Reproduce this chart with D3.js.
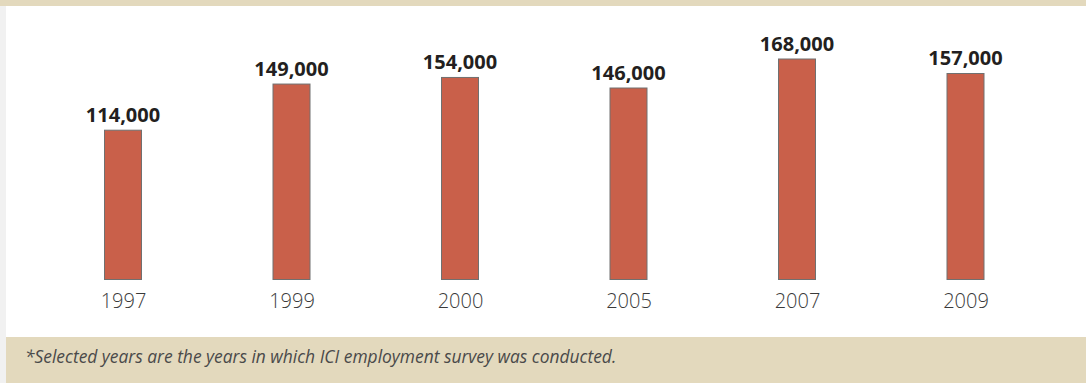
<!DOCTYPE html>
<html><head><meta charset="utf-8">
<script src="https://cdn.jsdelivr.net/npm/d3@7"></script>
<style>body{margin:0;background:#fff}svg{display:block}</style>
</head><body>
<svg id="c" width="1086" height="383"></svg>
<script>
const years = ["1997","1999","2000","2005","2007","2009"];
const employees = [114000,149000,154000,146000,168000,157000];
const valueLabels = ["114,000","149,000","154,000","146,000","168,000","157,000"];
const note = "*Selected years are the years in which ICI employment survey was conducted.";

const svg = d3.select("#c");
const W = 1086, H = 383;
svg.append("rect").attr("x",0).attr("y",0).attr("width",W).attr("height",H).attr("fill","#fff");
svg.append("rect").attr("x",0).attr("y",0).attr("width",6).attr("height",H).attr("fill","#f1f1f1");
svg.append("rect").attr("x",0).attr("y",0).attr("width",W).attr("height",6).attr("fill","#e3d9bd");
svg.append("rect").attr("x",6).attr("y",337).attr("width",W-6).attr("height",H-337).attr("fill","#e3d9bd");

const x = d3.scalePoint().domain(years).range([38.75,1049.75]).padding(0.5);
const y = d3.scaleLinear().domain([0,168000]).range([280,58.5]);
const bw = 38;

const data = years.map((yr,i)=>({yr, v:employees[i], lab:valueLabels[i]}));

svg.selectAll("rect.bar").data(data).enter().append("rect")
  .attr("class","bar")
  .attr("x",d=>x(d.yr)-bw/2+0.5)
  .attr("y",d=>y(d.v)+0.5)
  .attr("width",bw-1)
  .attr("height",d=>y(0)-y(d.v)-1)
  .attr("fill","#c9604a").attr("stroke","#707070").attr("stroke-width",1);

svg.selectAll("text.val").data(data).enter().append("text")
  .attr("class","val")
  .attr("x",d=>x(d.yr))
  .attr("y",d=>y(d.v)-8)
  .attr("text-anchor","middle")
  .attr("font-family","'Open Sans', sans-serif").attr("font-weight",700)
  .attr("font-size",20).attr("fill","#231f20")
  .text(d=>d.lab);

const ax = svg.append("g").attr("transform","translate(0,280)")
  .call(d3.axisBottom(x).tickSize(0).tickPadding(28));
ax.select(".domain").remove();
ax.selectAll("text").attr("font-family","'Open Sans', sans-serif").attr("font-weight",300)
  .attr("font-size",20).attr("fill","#3a3a3a").attr("dy","0");

svg.append("text").attr("x",25).attr("y",363)
  .attr("font-family","'Open Sans', sans-serif").attr("font-style","italic")
  .attr("font-size",17.4).attr("fill","#4a4a4a").text(note);
</script>
</body></html>
